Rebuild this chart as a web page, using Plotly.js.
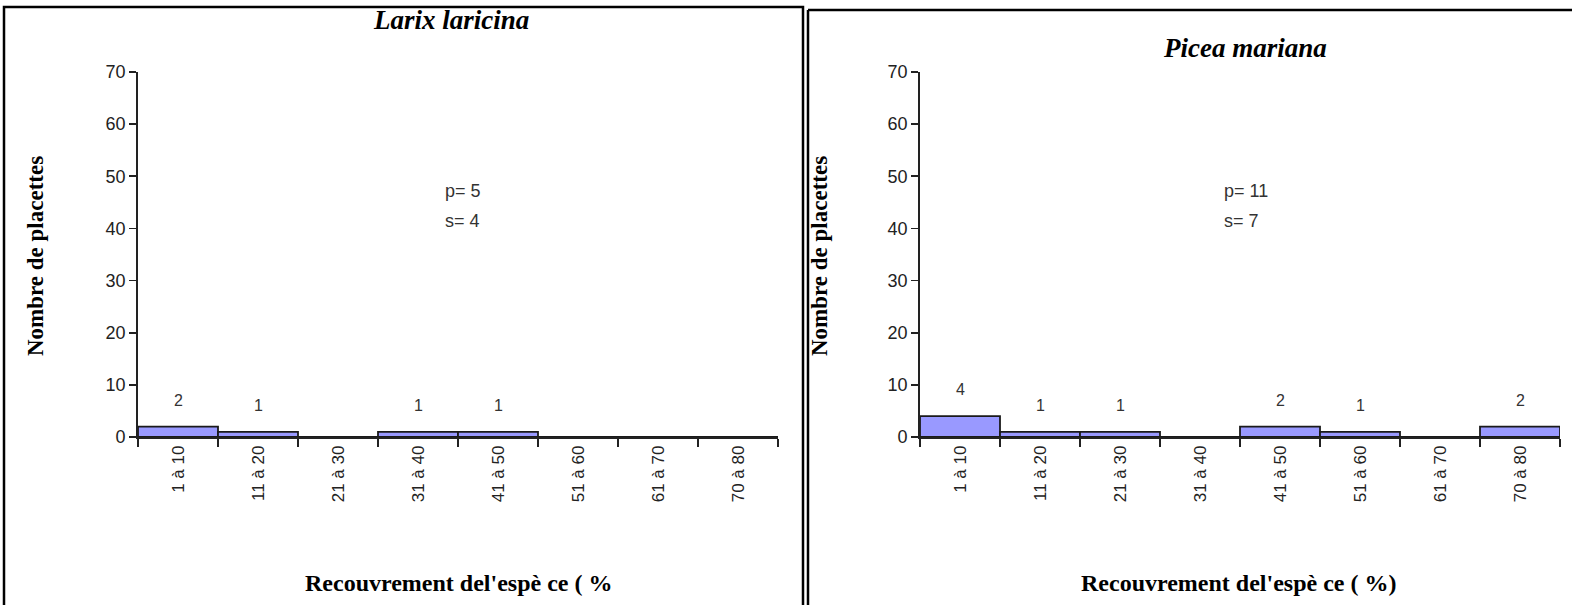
<!DOCTYPE html>
<html><head><meta charset="utf-8">
<script src="https://cdn.plot.ly/plotly-3.0.1.min.js"></script>
<style>html,body{margin:0;padding:0;background:#fff}#chart{width:1572px;height:605px}</style>
</head><body><div id="chart"></div>
<script>
const categories = ["1 à 10","11 à 20","21 à 30","31 à 40","41 à 50","51 à 60","61 à 70","70 à 80"];
const larixValues = [2,1,0,1,1,0,0,0];
const piceaValues = [4,1,1,0,2,1,0,2];
const yTicks = [0,10,20,30,40,50,60,70];
const panelTitles = ["Larix laricina","Picea mariana"];
const statsLarix = ["p= 5","s= 4"];
const statsPicea = ["p= 11","s= 7"];
const yTitle = "Nombre de placettes";
const xTitles = ["Recouvrement del'espè ce ( %", "Recouvrement del'espè ce ( %)"];

const W = 1572, H = 605;
const px = x => x / W;
const py = y => (H - y) / H;

function barTrace(vals, xa, ya) {
  return {
    type: 'bar', x: categories, y: vals, xaxis: xa, yaxis: ya,
    marker: {color: '#9999ff', line: {color: '#1a1a1a', width: 1.8}},
    hoverinfo: 'skip', showlegend: false
  };
}

function labelAnns(vals, xref, yref) {
  const out = [];
  vals.forEach((v, i) => {
    if (v > 0) out.push({
      xref: xref, yref: yref, x: categories[i], y: v, text: String(v),
      showarrow: false, xanchor: 'center', yanchor: 'bottom', yshift: 16,
      font: {family: 'Liberation Sans, Arial', size: 16, color: '#333'}
    });
  });
  return out;
}

const axisFont = {family: 'Liberation Sans, Arial', size: 18, color: '#222'};
const xTickFont = {family: 'Liberation Sans, Arial', size: 17, color: '#222'};

function xAxis(d0, d1, anchor) {
  return {
    domain: [px(d0), px(d1)], anchor: anchor, type: 'category',
    range: [-0.5, 7.5], tickangle: -90, tickson: 'boundaries',
    ticks: 'outside', ticklen: 8, tickwidth: 1.8, tickcolor: '#222',
    showline: true, linecolor: '#222', linewidth: 1.8,
    showgrid: false, zeroline: false, tickfont: xTickFont, fixedrange: true
  };
}
function yAxis(anchor) {
  return {
    domain: [py(437), py(72)], anchor: anchor, range: [0, 70],
    tickvals: yTicks, ticks: 'outside', ticklen: 7, tickwidth: 1.8, tickcolor: '#222',
    showline: true, linecolor: '#222', linewidth: 1.8,
    showgrid: false, zeroline: false, tickfont: axisFont, fixedrange: true
  };
}

const titleFont = {family: 'Liberation Serif, Times New Roman', size: 27, color: '#000'};
const yTitleFont = {family: 'Liberation Serif, Times New Roman', size: 23, color: '#000'};
const xTitleFont = {family: 'Liberation Serif, Times New Roman', size: 24, color: '#000'};
const statFont = {family: 'Liberation Sans, Arial', size: 18, color: '#333'};

function ann(x, y, text, font, extra) {
  return Object.assign({xref:'paper', yref:'paper', x: px(x), y: py(y), text: text,
    showarrow:false, xanchor:'center', yanchor:'middle', font: font}, extra || {});
}

const annotations = [
  ...labelAnns(larixValues, 'x', 'y'),
  ...labelAnns(piceaValues, 'x2', 'y2'),
  ann(451, 20, '<b><i>'+panelTitles[0]+'</i></b>', titleFont),
  ann(1245, 48, '<b><i>'+panelTitles[1]+'</i></b>', titleFont),
  ann(35, 256, '<b>'+yTitle+'</b>', yTitleFont, {textangle: -90}),
  ann(819, 256, '<b>'+yTitle+'</b>', yTitleFont, {textangle: -90}),
  ann(458, 583, '<b>'+xTitles[0]+'</b>', xTitleFont),
  ann(1238, 583, '<b>'+xTitles[1]+'</b>', xTitleFont),
  ann(443, 191, statsLarix[0], statFont, {xanchor:'left'}),
  ann(443, 221, statsLarix[1], statFont, {xanchor:'left'}),
  ann(1222, 191, statsPicea[0], statFont, {xanchor:'left'}),
  ann(1222, 221, statsPicea[1], statFont, {xanchor:'left'})
];

const shapes = [
  {type:'rect', xref:'paper', yref:'paper', x0: px(4), x1: px(803), y0: py(607), y1: py(7), line:{color:'#000', width:2.5}},
  {type:'line', xref:'paper', yref:'paper', x0: px(808), x1: px(808), y0: py(607), y1: py(10), line:{color:'#000', width:2.5}},
  {type:'line', xref:'paper', yref:'paper', x0: px(808), x1: px(1572), y0: py(10), y1: py(10), line:{color:'#000', width:2.5}}
];

const layout = {
  width: W, height: H, margin: {l:0, r:0, t:0, b:0},
  paper_bgcolor: '#fff', plot_bgcolor: 'rgba(0,0,0,0)',
  bargap: 0, showlegend: false,
  xaxis: xAxis(138, 778, 'y'), yaxis: yAxis('x'),
  xaxis2: xAxis(920, 1560, 'y2'), yaxis2: yAxis('x2'),
  annotations: annotations, shapes: shapes
};

Plotly.newPlot('chart', [barTrace(larixValues,'x','y'), barTrace(piceaValues,'x2','y2')], layout, {displayModeBar:false, staticPlot:true});
</script></body></html>
